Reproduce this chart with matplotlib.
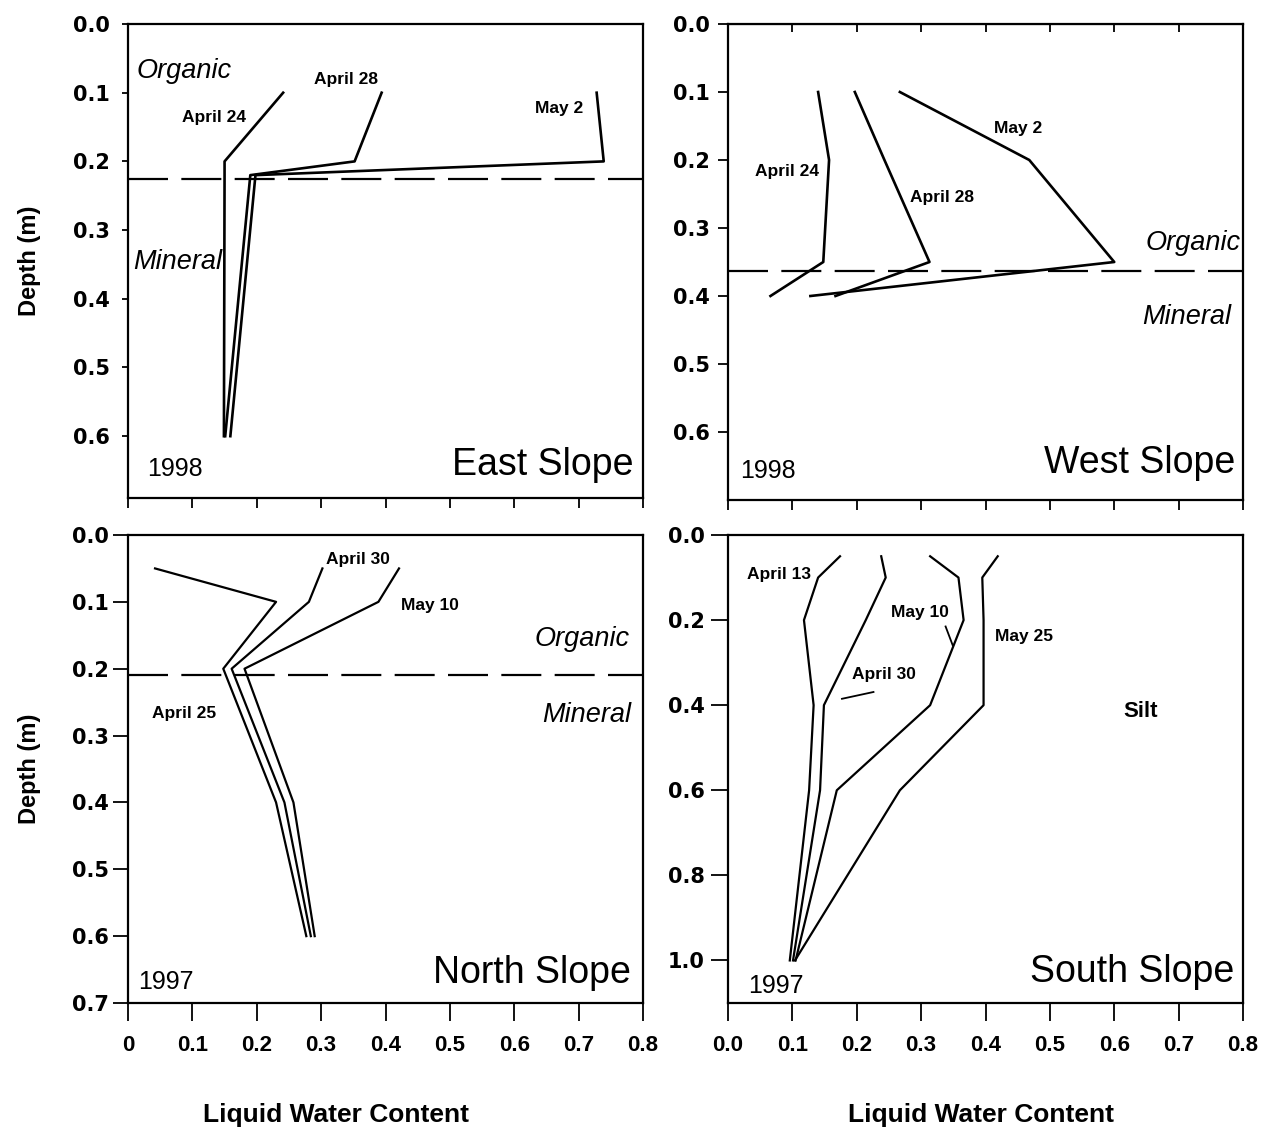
import numpy as np
import matplotlib
matplotlib.use("Agg")
import matplotlib.pyplot as plt

# East slope 1998
east_depth = [0.1, 0.2, 0.22, 0.6]
east_apr24 = [0.241, 0.150, 0.150, 0.149]
east_apr28 = [0.394, 0.352, 0.190, 0.151]
east_may2 = [0.728, 0.739, 0.198, 0.159]
east_boundary = 0.225

# West slope 1998
west_depth = [0.1, 0.2, 0.35, 0.4]
west_apr24 = [0.140, 0.157, 0.148, 0.066]
west_apr28 = [0.197, 0.243, 0.313, 0.167]
west_may2 = [0.267, 0.468, 0.600, 0.128]
west_boundary = 0.363

# North slope 1997
north_depth = [0.05, 0.1, 0.2, 0.4, 0.6]
north_apr25 = [0.042, 0.230, 0.148, 0.230, 0.277]
north_apr30 = [0.302, 0.281, 0.161, 0.243, 0.284]
north_may10 = [0.421, 0.389, 0.181, 0.257, 0.290]
north_boundary = 0.21

# South slope 1997
south_depth = [0.05, 0.1, 0.2, 0.4, 0.6, 1.0]
south_apr13 = [0.174, 0.140, 0.118, 0.133, 0.126, 0.096]
south_apr30 = [0.238, 0.245, 0.214, 0.149, 0.143, 0.101]
south_may10 = [0.314, 0.358, 0.366, 0.314, 0.169, 0.105]
south_may25 = [0.419, 0.395, 0.397, 0.397, 0.267, 0.104]

x_ticks = [0, 0.1, 0.2, 0.3, 0.4, 0.5, 0.6, 0.7, 0.8]
x_labels_left = ["0", "0.1", "0.2", "0.3", "0.4", "0.5", "0.6", "0.7", "0.8"]
x_labels_right = ["0.0", "0.1", "0.2", "0.3", "0.4", "0.5", "0.6", "0.7", "0.8"]

SANS = ["Liberation Sans", "DejaVu Sans"]

fig = plt.figure(figsize=(12.67, 11.34), dpi=100)
W, H = 1267, 1134


def make_ax(l, r, t, b):
    return fig.add_axes([l / W, 1 - b / H, (r - l) / W, (b - t) / H])


ax1 = make_ax(128, 643, 24, 498)
ax2 = make_ax(728, 1243, 24, 500)
ax3 = make_ax(128, 643, 535, 1003)
ax4 = make_ax(728, 1243, 535, 1003)

for ax in (ax1, ax2, ax3, ax4):
    for s in ax.spines.values():
        s.set_linewidth(1.6)
    ax.set_xlim(0, 0.8)
    ax.set_xticks(x_ticks)

ax1.set_ylim(0.69, 0)
ax2.set_ylim(0.70, 0)
ax3.set_ylim(0.7, 0)
ax4.set_ylim(1.1, 0)

ax1.set_yticks([0, 0.1, 0.2, 0.3, 0.4, 0.5, 0.6])
ax2.set_yticks([0, 0.1, 0.2, 0.3, 0.4, 0.5, 0.6])
ax3.set_yticks([0, 0.1, 0.2, 0.3, 0.4, 0.5, 0.6, 0.7])
ax4.set_yticks([0, 0.2, 0.4, 0.6, 0.8, 1.0])
for ax in (ax1, ax2, ax3, ax4):
    ax.set_yticklabels(["%.1f" % v for v in ax.get_yticks()],
                       fontsize=15, fontweight="bold", family="DejaVu Sans")

ax1.tick_params(axis="x", direction="out", length=7, width=1.3, labelbottom=False)
ax2.tick_params(axis="x", direction="out", length=7, width=1.3, labelbottom=False)
ax1.tick_params(axis="y", direction="out", length=4, width=1.3, pad=9)
ax2.tick_params(axis="y", direction="out", length=7, width=1.3, pad=6)
ax3.tick_params(axis="y", direction="out", length=11, width=1.3, pad=3)
ax4.tick_params(axis="y", direction="out", length=12, width=1.3, pad=5)
ax3.tick_params(axis="x", direction="out", length=13, width=1.3, pad=10)
ax4.tick_params(axis="x", direction="out", length=13, width=1.3, pad=10)
# top-right: inward ticks on the upper edge
sec = ax2.secondary_xaxis("top")
sec.set_xticks(x_ticks[1:-1])
sec.tick_params(direction="in", length=6, width=1.3, labeltop=False)

ax3.set_xticklabels(x_labels_left, fontsize=16, fontweight="bold", family=SANS)
ax4.set_xticklabels(x_labels_right, fontsize=16, fontweight="bold", family=SANS)

for ax in (ax1, ax3):
    ax.set_ylabel("Depth (m)", fontsize=17, fontweight="bold", family=SANS)
    ax.yaxis.set_label_coords(-0.168, 0.5)
for ax, xc in ((ax3, 0.403), (ax4, 0.491)):
    ax.set_xlabel("Liquid Water Content", fontsize=19, fontweight="bold", family=SANS)
    ax.xaxis.set_label_coords(xc, -0.239)
    ax.xaxis.label.set_va("center")

lw = 1.9
ax1.plot(east_apr24, east_depth, color="black", lw=lw)
ax1.plot(east_apr28, east_depth, color="black", lw=lw)
ax1.plot(east_may2, east_depth, color="black", lw=lw)

ax2.plot(west_apr24, west_depth, color="black", lw=lw)
ax2.plot(west_apr28, west_depth, color="black", lw=lw)
ax2.plot(west_may2, west_depth, color="black", lw=lw)

lw2 = 1.6
ax3.plot(north_apr25, north_depth, color="black", lw=lw2)
ax3.plot(north_apr30, north_depth, color="black", lw=lw2)
ax3.plot(north_may10, north_depth, color="black", lw=lw2)

ax4.plot(south_apr13, south_depth, color="black", lw=lw2)
ax4.plot(south_apr30, south_depth, color="black", lw=lw2)
ax4.plot(south_may10, south_depth, color="black", lw=lw2)
ax4.plot(south_may25, south_depth, color="black", lw=lw2)

for ax, b in ((ax1, east_boundary), (ax2, west_boundary), (ax3, north_boundary)):
    ax.axhline(b, color="black", lw=1.6, dashes=(18, 6))

lab = dict(fontsize=12.5, fontweight="bold", family=SANS, ha="center", va="center")
ita = dict(fontsize=19.5, style="italic", family=SANS, va="center")
yr = dict(fontsize=18, family=SANS, ha="left", va="center")
big = dict(fontsize=27, family=SANS, ha="right", va="center")

# East
ax1.text(0.014, 0.068, "Organic", ha="left", **ita)
ax1.text(0.008, 0.347, "Mineral", ha="left", **ita)
ax1.text(0.133, 0.136, "April 24", **lab)
ax1.text(0.339, 0.081, "April 28", **lab)
ax1.text(0.670, 0.123, "May 2", **lab)
ax1.text(0.029, 0.648, "1998", **yr)
ax1.text(0.785, 0.642, "East Slope", **big)

# West
ax2.text(0.797, 0.322, "Organic", ha="right", **ita)
ax2.text(0.781, 0.431, "Mineral", ha="right", **ita)
ax2.text(0.091, 0.217, "April 24", **lab)
ax2.text(0.332, 0.255, "April 28", **lab)
ax2.text(0.451, 0.154, "May 2", **lab)
ax2.text(0.019, 0.658, "1998", **yr)
ax2.text(0.788, 0.646, "West Slope", **big)

# North
ax3.text(0.779, 0.155, "Organic", ha="right", **ita)
ax3.text(0.781, 0.269, "Mineral", ha="right", **ita)
ax3.text(0.357, 0.037, "April 30", **lab)
ax3.text(0.469, 0.106, "May 10", **lab)
ax3.text(0.087, 0.267, "April 25", **lab)
ax3.text(0.016, 0.668, "1997", **yr)
ax3.text(0.781, 0.655, "North Slope", **big)

# South
ax4.text(0.079, 0.094, "April 13", **lab)
ax4.text(0.298, 0.182, "May 10", **lab)
ax4.plot([0.338, 0.349], [0.215, 0.259], color="black", lw=1.3)
ax4.text(0.460, 0.238, "May 25", **lab)
ax4.text(0.243, 0.327, "April 30", **lab)
ax4.plot([0.177, 0.226], [0.385, 0.369], color="black", lw=1.3)
ax4.text(0.641, 0.416, "Silt", fontsize=16, fontweight="bold", family=SANS,
         ha="center", va="center")
ax4.text(0.031, 1.059, "1997", **yr)
ax4.text(0.786, 1.027, "South Slope", **big)

fig.savefig("out.png", dpi=100)
